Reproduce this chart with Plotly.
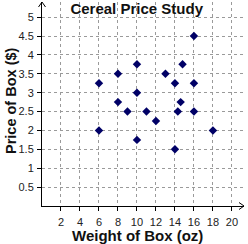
import plotly.graph_objects as go

weight = [6, 6, 8, 8, 9, 10, 10, 10, 11, 12, 13, 14, 14, 14.3, 14.6, 14.8, 16, 16, 16, 18]
price = [3.25, 2, 2.75, 3.5, 2.5, 3.75, 3, 1.75, 2.5, 2.25, 3.5, 1.5, 3.25, 2.5, 2.75, 3.75, 4.5, 3.25, 2.5, 2]

x_ticks = [2, 4, 6, 8, 10, 12, 14, 16, 18, 20]
y_ticks = [0.5, 1, 1.5, 2, 2.5, 3, 3.5, 4, 4.5, 5]

title = "Cereal Price Study"
x_title = "Weight of Box (oz)"
y_title = "Price of Box ($)"

W, H = 248, 244
ml, mr, mt, mb = 42, 4, 2, 38
pw, ph = W - ml - mr, H - mt - mb

fig = go.Figure()
fig.add_trace(go.Scatter(
    x=weight, y=price, mode="markers",
    marker=dict(symbol="diamond", size=6.5, color="#000066"),
    hoverinfo="skip", showlegend=False,
))

font_family = "Liberation Sans, Arial, sans-serif"
grid = dict(showgrid=True, gridcolor="#9a9a9a", griddash="dot", gridwidth=1,
            zeroline=False, showline=True, linecolor="black", linewidth=1,
            ticks="outside", ticklen=4, tickcolor="black", tickwidth=1,
            tickfont=dict(family=font_family, size=11, color="#222"))

fig.update_xaxes(range=[0, 21.27], tickvals=x_ticks, ticktext=[str(v) for v in x_ticks],
                 ticklabelstandoff=2, **grid)
fig.update_yaxes(range=[0, 5.4], tickvals=y_ticks, ticktext=[str(v) for v in y_ticks],
                 ticklabelstandoff=1, **grid)

# arrow chevrons at the axis ends (paper coords)
ax_ = 3.5 / pw
ay_ = 5.0 / ph
fig.add_shape(type="path", xref="paper", yref="paper",
              path=f"M {-ax_} {1 - ay_} L 0 1 L {ax_} {1 - ay_}",
              line=dict(color="black", width=1))
bx = 5.0 / pw
by = 3.5 / ph
fig.add_shape(type="path", xref="paper", yref="paper",
              path=f"M {1 - bx} {by} L 1 0 L {1 - bx} {-by}",
              line=dict(color="black", width=1))

title_font = dict(family=font_family, size=15, color="#111")
fig.add_annotation(text="<b>" + x_title + "</b>", xref="paper", yref="paper",
                   x=(137 - ml) / pw, y=-(235 - (H - mb)) / ph,
                   xanchor="center", yanchor="middle", showarrow=False, font=title_font)
fig.add_annotation(text="<b>" + y_title + "</b>", xref="paper", yref="paper",
                   x=-(ml - 11) / pw, y=(H - mb - 101) / ph, textangle=-90,
                   xanchor="center", yanchor="middle", showarrow=False,
                   font=dict(family=font_family, size=14.5, color="#111"))

fig.update_layout(
    width=W, height=H,
    margin=dict(l=ml, r=mr, t=mt, b=mb),
    paper_bgcolor="white", plot_bgcolor="white",
    title=dict(text="<b>" + title + "</b>", x=136.7 / W, xanchor="center",
               y=1 - 8.5 / H, yanchor="middle", font=title_font),
)

fig.write_html("out.html")
